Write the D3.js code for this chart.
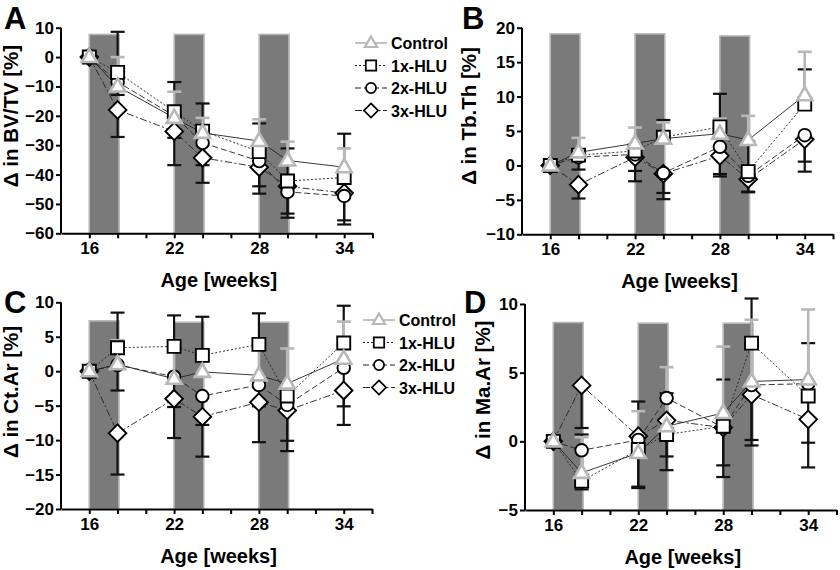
<!DOCTYPE html>
<html>
<head>
<meta charset="utf-8">
<script src="https://cdn.jsdelivr.net/npm/d3@7"></script>
<style>
  body { margin: 0; background: #fff; }
  svg { display: block; font-family: "Liberation Sans", Arial, sans-serif; }
</style>
</head>
<body>
<div id="chart"></div>
<script>
// ---- data ----
const weeks = [16, 18, 22, 24, 28, 30, 34];
const seriesNames = ["Control", "1x-HLU", "2x-HLU", "3x-HLU"];
const xTickLabels = [16, 22, 28, 34];
const hluStart = [16, 22, 28];
const hluEnd = [18.1, 24.1, 30.1];

// A: BV/TV  (rows = Control, 1x, 2x, 3x)
const bvtvMean = [
  [0, -10, -20.7, -25.8, -28.6, -35.2, -37.5],
  [0, -5.2, -18.6, -25.2, -32.2, -42.2, -41],
  [0, -8.5, -20, -29.2, -35.4, -45.9, -47.3],
  [0, -18, -25.3, -34.3, -37.5, -44, -46.3]
];
const bvtvHi = [
  [null, 0, -11.8, -20.7, -21.2, -28.8, -31.1],
  [null, 8.6, -8.5, -15.8, -22.6, -31.1, -26.1],
  [null, null, null, null, null, null, null],
  [null, null, null, null, null, null, null]
];
const bvtvLo = [
  [null, null, null, null, null, null, null],
  [null, null, null, null, null, null, null],
  [null, -12.9, -27.5, -36.8, -44, -54.7, -57],
  [null, -27.2, -36.8, -42.8, -46.5, -53.3, -55.6]
];
const bvtvBarTop = [7.7, 7.7, 7.7];

// B: Tb.Th
const tbthMean = [
  [0, 1.9, 3.2, 3.9, 4.6, 3.7, 10.2],
  [0, 1.5, 2.1, 4.1, 5.6, -0.9, 8.9],
  [0, 1.2, 1.6, -1.1, 2.7, -1.5, 4.4],
  [0, -2.8, 1.2, -1.2, 1.4, -2.0, 3.8]
];
const tbthHi = [
  [null, 4.0, 5.5, 6.25, 6.8, 7.2, 16.5],
  [null, null, null, 6.6, 10.4, 3.5, 13.95],
  [null, null, null, null, null, null, null],
  [null, null, null, null, null, null, null]
];
const tbthLo = [
  [null, null, null, null, null, null, null],
  [null, -0.6, -0.8, null, null, null, null],
  [null, null, null, -4.0, -1.25, -3.8, 0.55],
  [null, -4.8, -2.3, -4.9, -1.6, -3.9, -0.9]
];
const tbthBarTop = [19.1, 19.1, 18.8];

// C: Ct.Ar
const ctarMean = [
  [0, 1.0, -1.1, -0.1, -0.6, -1.8, 1.8],
  [0, 3.4, 3.6, 2.3, 3.9, -3.6, 4.1],
  [0, 0.9, -0.8, -3.6, -2.0, -4.9, 0.5],
  [0, -9.0, -4.0, -6.6, -4.5, -5.7, -2.8]
];
const ctarHi = [
  [null, 4.5, 3.0, 2.5, 4.5, 3.3, 7.2],
  [null, 8.5, 8.1, 7.9, 8.4, null, 9.5],
  [null, null, null, null, null, null, null],
  [null, null, null, null, null, null, null]
];
const ctarLo = [
  [null, null, null, null, null, null, null],
  [null, null, null, null, null, null, null],
  [null, -2.8, -5.2, -7.8, -5.1, -10.1, -5.1],
  [null, -15.0, -9.7, -12.4, -10.3, -11.6, -7.8]
];
const ctarBarTop = [7.3, 7.1, 7.1];

// D: Ma.Ar
const maarMean = [
  [0, -2.3, -0.85, 1.1, 2.06, 4.36, 4.5],
  [0, -2.9, -0.6, 0.5, 1.1, 7.15, 3.3],
  [0, -0.65, 0.1, 3.15, 1.0, 4.1, 4.2],
  [0, 4.07, 0.37, 1.53, 1.0, 3.4, 1.6]
];
const maarHi = [
  [null, 0.3, 2.2, 5.4, 6.9, 8.85, 9.6],
  [null, null, null, null, null, 10.4, null],
  [null, 0.5, 2.9, 3.5, 4.5, null, 7.15],
  [null, null, null, null, null, null, null]
];
const maarLo = [
  [null, null, null, null, null, null, null],
  [null, -3.5, -3.3, -1.1, -1.75, null, -0.1],
  [null, null, null, null, null, 0.1, null],
  [null, 0.97, -3.4, -2.1, -2.6, -0.3, -1.9]
];
const maarBarTop = [8.65, 8.6, 8.6];

// ---- layout / style ----
const W = 840, H = 570;
const panels = [
  { label: "A", title: "\u0394 in BV/TV [%]", mean: bvtvMean, hi: bvtvHi, lo: bvtvLo, barTop: bvtvBarTop,
    yDomain: [-60, 10], yStep: 10, xRange: [61, 372.5], yRange: [233.3, 27.7],
    labelPos: [4, 29], yTitleX: 18, yTitleY: 116, legend: [355, 43] },
  { label: "B", title: "\u0394 in Tb.Th [%]", mean: tbthMean, hi: tbthHi, lo: tbthLo, barTop: tbthBarTop,
    yDomain: [-10, 20], yStep: 5, xRange: [522, 833], yRange: [234.3, 27.7],
    labelPos: [462, 29], yTitleX: 476, yTitleY: 116, legend: null },
  { label: "C", title: "\u0394 in Ct.Ar [%]", mean: ctarMean, hi: ctarHi, lo: ctarLo, barTop: ctarBarTop,
    yDomain: [-20, 10], yStep: 5, xRange: [61, 372], yRange: [509, 302.3],
    labelPos: [4, 313], yTitleX: 18, yTitleY: 392, legend: [363, 320] },
  { label: "D", title: "\u0394 in Ma.Ar [%]", mean: maarMean, hi: maarHi, lo: maarLo, barTop: maarBarTop,
    yDomain: [-5, 10], yStep: 5, xRange: [525, 836.5], yRange: [510, 304],
    labelPos: [464, 313], yTitleX: 490, yTitleY: 390, legend: null }
];

const dashes = [null, "2,2", "6,3", "7,2.5,2,2.5"];
const CTRL_GRAY = "#b8b8b8";

const markerPath = [
  "M0,-8.2L7.6,5L-7.6,5Z",                     // triangle
  "M-6.5,-6.5h13v13h-13Z",                     // square
  d3.symbol(d3.symbolCircle, Math.PI * 6.3 * 6.3)(),  // circle
  "M0,-8.8L8.8,0L0,8.8L-8.8,0Z"                // diamond
];

const svg = d3.select("#chart").append("svg")
  .attr("width", W).attr("height", H);

panels.forEach(p => {
  const x = d3.scaleLinear().domain([14, 36]).range(p.xRange);
  const y = d3.scaleLinear().domain(p.yDomain).range(p.yRange);
  const g = svg.append("g").attr("class", "panel-" + p.label);

  // HLU bars
  g.selectAll("rect.hlu").data(hluStart).join("rect")
    .attr("class", "hlu")
    .attr("x", d => x(d))
    .attr("width", (d, i) => x(hluEnd[i]) - x(d))
    .attr("y", (d, i) => y(p.barTop[i]))
    .attr("height", (d, i) => y(p.yDomain[0]) - y(p.barTop[i]))
    .attr("fill", "#7a7a7a")
    .attr("stroke", "#b4b4b4")
    .attr("stroke-width", 1.6);

  // axes
  const yTicks = d3.range(p.yDomain[0], p.yDomain[1] + 0.01, p.yStep);
  const yAxis = g.append("g").attr("transform", `translate(${p.xRange[0]},0)`)
    .call(d3.axisLeft(y).tickValues(yTicks).tickSize(5).tickSizeOuter(0).tickPadding(2).tickFormat(d3.format("d")));
  const xAxis = g.append("g").attr("transform", `translate(0,${p.yRange[0]})`)
    .call(d3.axisBottom(x).tickValues(d3.range(16, 36.1, 2)).tickSize(5).tickSizeOuter(0).tickPadding(4)
      .tickFormat(d => xTickLabels.includes(d) ? d : ""));
  [yAxis, xAxis].forEach(a => {
    a.select(".domain").attr("stroke", "#000").attr("stroke-width", 2);
    a.selectAll(".tick line").attr("stroke", "#000").attr("stroke-width", 2);
    a.selectAll(".tick text").attr("fill", "#000").attr("font-size", 17).attr("font-weight", "bold")
      .attr("font-family", "'Liberation Sans', Arial, sans-serif");
  });
  yAxis.select(".domain").attr("d", `M0,${p.yRange[0]}V${p.yRange[1]}`);

  // titles
  g.append("text")
    .attr("transform", `translate(${p.yTitleX},${p.yTitleY}) rotate(-90)`)
    .attr("text-anchor", "middle").attr("font-size", 20.5).attr("font-weight", "bold")
    .text(p.title);
  g.append("text")
    .attr("x", (x(16) + x(34)) / 2 + 2).attr("y", p.yRange[0] + 54)
    .attr("text-anchor", "middle").attr("font-size", 20).attr("font-weight", "bold")
    .text("Age [weeks]");
  g.append("text")
    .attr("x", p.labelPos[0]).attr("y", p.labelPos[1])
    .attr("font-size", 31).attr("font-weight", "bold")
    .text(p.label);

  // error bars (black first, control gray on top)
  const order = [3, 2, 1, 0];
  order.forEach(s => {
    const col = s === 0 ? CTRL_GRAY : "#111";
    const ends = [];
    weeks.forEach((w, i) => {
      if (p.hi[s][i] != null) ends.push({ w, m: p.mean[s][i], e: p.hi[s][i] });
      if (p.lo[s][i] != null) ends.push({ w, m: p.mean[s][i], e: p.lo[s][i] });
    });
    const eb = g.append("g").attr("stroke", col).attr("stroke-width", s === 0 ? 2.6 : 2.2);
    eb.selectAll("line.stem").data(ends).join("line").attr("class", "stem")
      .attr("x1", d => x(d.w)).attr("x2", d => x(d.w))
      .attr("y1", d => y(d.m)).attr("y2", d => y(d.e));
    eb.selectAll("line.cap").data(ends).join("line").attr("class", "cap")
      .attr("x1", d => x(d.w) - 7).attr("x2", d => x(d.w) + 7)
      .attr("y1", d => y(d.e)).attr("y2", d => y(d.e));
  });

  // connecting lines
  const line = d3.line().x((d, i) => x(weeks[i])).y(d => y(d));
  order.forEach(s => {
    g.append("path").datum(p.mean[s])
      .attr("d", line).attr("fill", "none")
      .attr("stroke", "#222").attr("stroke-width", 0.9)
      .attr("stroke-dasharray", dashes[s]);
  });

  // markers
  order.forEach(s => {
    g.append("g").selectAll("path").data(p.mean[s]).join("path")
      .attr("transform", (d, i) => `translate(${x(weeks[i])},${y(d)})`)
      .attr("d", markerPath[s])
      .attr("fill", "#fff")
      .attr("stroke", s === 0 ? CTRL_GRAY : "#000")
      .attr("stroke-width", s === 0 ? 2.6 : 1.9);
  });

  // legend
  if (p.legend) {
    const [lx, ly] = p.legend;
    const lg = g.append("g").attr("transform", `translate(${lx},${ly})`);
    seriesNames.forEach((name, s) => {
      const row = lg.append("g").attr("transform", `translate(0,${s * 22.5})`);
      row.append("line").attr("x1", 0).attr("x2", 32).attr("y1", 0).attr("y2", 0)
        .attr("stroke", s === 0 ? "#999" : "#222").attr("stroke-width", 1.2)
        .attr("stroke-dasharray", dashes[s]);
      row.append("path").attr("transform", "translate(16,0) scale(0.8)").attr("d", markerPath[s])
        .attr("fill", "#fff").attr("stroke", s === 0 ? CTRL_GRAY : "#000")
        .attr("stroke-width", s === 0 ? 2.8 : 2.2);
      row.append("text").attr("x", 36).attr("y", 6).attr("font-size", 16).attr("font-weight", "bold")
        .text(name);
    });
  }
});
</script>
</body>
</html>
